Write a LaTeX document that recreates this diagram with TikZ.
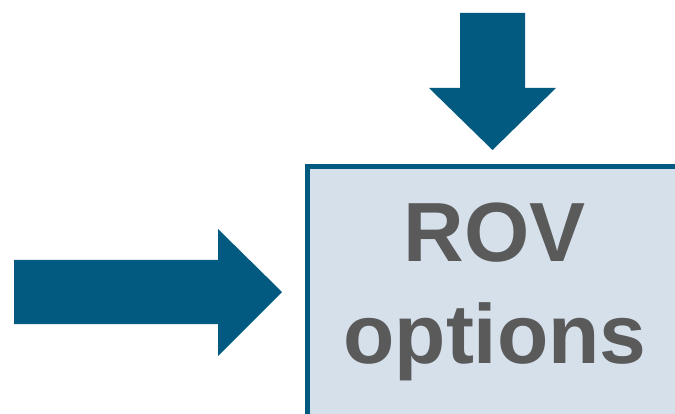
\documentclass[tikz,border=0pt]{standalone}
\usepackage{fontspec}
\setmainfont{Liberation Sans}
\definecolor{arrowblue}{HTML}{035A80}
\definecolor{boxfill}{HTML}{D5E0EB}
\definecolor{textgray}{HTML}{5A5A5A}
\begin{document}
\begin{tikzpicture}[x=1pt,y=-1pt,
  fatarrow/.style={fill=arrowblue,draw=none},
  optbox/.style={fill=boxfill,draw=arrowblue,line width=4.5pt}]
\useasboundingbox (0,0) rectangle (675,414);
\clip (0,0) rectangle (675,414);
\draw[optbox] (307.5,166.5) rectangle (700,440);
\node[text=textgray,font=\bfseries\fontsize{84}{102}\selectfont,align=center,anchor=base] (t) at (495,363) {ROV\\options};
\fill[fatarrow] (460,13) -- (525,13) -- (525,88) -- (556,88) -- (492.5,150) -- (429,88) -- (460,88) -- cycle;
\fill[fatarrow] (14,260) -- (218,260) -- (218,229) -- (282,292) -- (218,356) -- (218,324) -- (14,324) -- cycle;
\end{tikzpicture}
\end{document}
